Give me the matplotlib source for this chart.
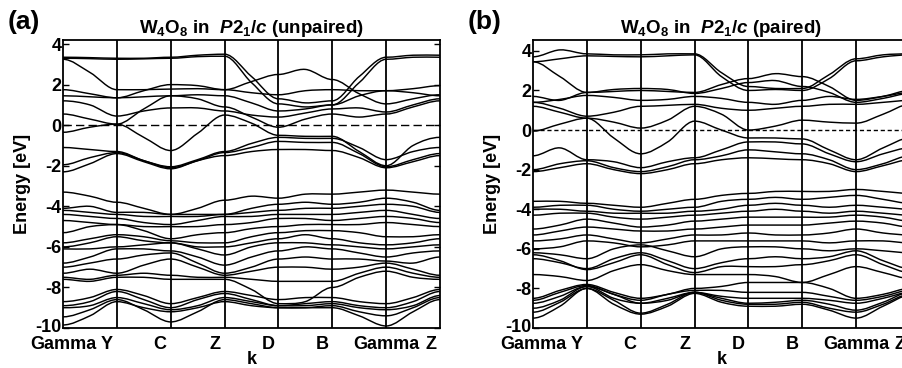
import matplotlib
matplotlib.use("Agg")
import matplotlib.pyplot as plt
from matplotlib.path import Path
from matplotlib.patches import PathPatch
from matplotlib.transforms import ScaledTranslation

plt.rcParams['font.family'] = ['Liberation Sans', 'DejaVu Sans']
plt.rcParams['mathtext.fontset'] = 'custom'
plt.rcParams['mathtext.rm'] = 'Liberation Sans:bold'
plt.rcParams['mathtext.bf'] = 'Liberation Sans:bold'
plt.rcParams['mathtext.it'] = 'Liberation Sans:italic:bold'

# ---------------- data ----------------
k_labels = ['Gamma', 'Y', 'C', 'Z', 'D', 'B', 'Gamma', 'Z']
# samples: each high-symmetry point and the middle of each segment
k_samples = [0, 0.5, 1, 1.5, 2, 2.5, 3, 3.5, 4, 4.5, 5, 5.5, 6, 6.5, 7]

# panel (a) unpaired
a_upper = [
    [3.35, 3.33, 3.30, 3.30, 3.35, 3.45, 3.50, 2.40, 1.30, 1.10, 1.20, 2.40, 3.35, 3.45, 3.45],
    [3.30, 3.28, 3.25, 3.27, 3.30, 3.38, 3.40, 2.10, 1.05, 0.90, 1.00, 2.10, 3.25, 3.35, 3.35],
    [3.25, 2.60, 1.75, 1.75, 1.78, 1.80, 1.75, 2.15, 2.50, 2.75, 2.25, 1.55, 1.05, 1.30, 1.50],
    [1.75, 1.55, 1.35, 1.70, 2.00, 1.95, 1.75, 1.60, 1.50, 1.70, 1.75, 1.70, 1.70, 1.80, 1.95],
    [1.45, 1.40, 1.35, 1.40, 1.45, 1.50, 1.45, 1.10, 0.70, 0.80, 1.00, 1.45, 1.70, 1.60, 1.45],
    [1.20, 1.00, 0.45, 0.70, 0.85, 0.85, 0.70, 0.50, 0.40, 0.60, 0.80, 0.85, 0.65, 1.00, 1.30],
    [0.55, 0.30, 0.05, 0.80, 1.45, 1.30, 0.90, 0.40, -0.10, 0.30, 0.55, 0.40, 0.55, 0.90, 1.20],
    [-0.35, -0.10, 0.05, -0.60, -1.25, -0.40, 0.50, 0.10, -0.50, -0.55, -0.55, -1.30, -2.00, -1.00, -0.60],
]
a_gap = [
    [-1.10, -1.20, -1.30, -1.75, -2.05, -1.70, -1.30, -0.90, -0.60, -0.65, -0.65, -1.10, -1.70, -1.30, -1.10],
    [-1.95, -1.60, -1.35, -1.75, -2.10, -1.75, -1.35, -1.10, -0.80, -0.85, -0.85, -1.40, -2.05, -1.70, -1.40],
    [-2.30, -1.90, -1.40, -1.80, -2.15, -1.75, -1.50, -1.30, -1.20, -1.20, -1.25, -1.60, -2.10, -1.80, -1.50],
]
a_mid = [
    [-3.3, -3.5, -3.8, -4.1, -4.4, -4.1, -3.7, -3.5, -3.6, -3.4, -3.4, -3.3, -3.2, -3.3, -3.4],
    [-4.1, -4.0, -4.3, -4.3, -4.4, -4.4, -4.4, -4.1, -3.9, -3.8, -3.9, -3.8, -3.6, -3.8, -4.2],
    [-4.2, -4.3, -4.4, -4.5, -4.5, -4.5, -4.4, -4.3, -4.2, -4.1, -4.1, -4.0, -3.9, -4.0, -4.3],
    [-4.4, -4.5, -4.6, -4.8, -4.9, -4.7, -4.5, -4.5, -4.4, -4.4, -4.4, -4.3, -4.2, -4.4, -4.6],
    [-4.7, -4.8, -4.9, -5.0, -5.0, -5.0, -4.9, -4.8, -4.6, -4.6, -4.7, -4.6, -4.5, -4.6, -4.8],
    [-5.3, -5.0, -4.9, -5.2, -5.6, -5.4, -5.3, -5.1, -5.0, -4.9, -4.9, -4.9, -4.8, -4.9, -5.0],
    [-5.8, -5.6, -5.4, -5.5, -5.7, -5.8, -5.8, -5.5, -5.3, -5.2, -5.2, -5.3, -5.5, -5.5, -5.4],
    [-6.0, -5.8, -5.5, -5.7, -5.8, -6.0, -6.0, -5.8, -5.6, -5.4, -5.6, -5.8, -5.9, -5.8, -5.6],
    [-6.1, -6.1, -6.0, -5.9, -5.8, -6.1, -6.4, -6.0, -5.8, -5.8, -5.9, -6.0, -6.1, -6.0, -5.9],
    [-6.8, -6.5, -6.1, -6.1, -6.2, -6.5, -6.9, -6.5, -6.2, -6.0, -6.1, -6.3, -6.5, -6.3, -6.2],
    [-7.0, -6.8, -6.6, -6.4, -6.3, -6.8, -7.3, -7.0, -6.6, -6.5, -6.6, -6.6, -6.7, -6.8, -6.5],
    [-7.3, -7.1, -7.3, -6.9, -6.6, -7.0, -7.4, -7.2, -7.0, -7.0, -7.1, -7.0, -6.8, -7.1, -7.4],
    [-7.5, -7.6, -7.4, -7.3, -7.4, -7.5, -7.5, -7.6, -7.7, -7.7, -7.7, -7.3, -7.0, -7.3, -7.5],
    [-7.6, -7.7, -7.5, -7.5, -7.6, -7.6, -7.6, -8.1, -8.8, -8.7, -8.0, -7.5, -7.2, -7.5, -7.6],
]
a_low = [
    [-8.7, -8.5, -8.1, -8.4, -8.8, -8.5, -8.2, -8.4, -8.6, -8.5, -8.5, -8.7, -8.8, -8.5, -8.1],
    [-8.9, -8.7, -8.2, -8.6, -9.0, -8.6, -8.3, -8.6, -8.9, -8.8, -8.7, -8.9, -9.0, -8.7, -8.2],
    [-9.0, -8.9, -8.5, -8.8, -9.1, -8.9, -8.5, -8.7, -8.9, -8.9, -8.8, -9.0, -9.1, -8.9, -8.4],
    [-9.45, -9.1, -8.6, -9.1, -9.7, -9.2, -8.6, -8.8, -9.0, -9.0, -8.9, -9.2, -9.4, -9.0, -8.5],
    [-9.85, -9.4, -8.7, -9.0, -9.2, -9.0, -8.7, -8.9, -9.0, -9.0, -9.0, -9.4, -9.9, -9.2, -8.6],
]

# panel (b) paired
b_upper = [
    [3.70, 4.05, 3.85, 3.80, 3.80, 3.85, 3.85, 2.90, 2.20, 2.10, 2.10, 2.80, 3.60, 3.80, 3.85],
    [3.45, 3.60, 3.75, 3.72, 3.70, 3.75, 3.80, 2.70, 2.00, 2.05, 2.00, 2.60, 3.50, 3.70, 3.80],
    [3.45, 2.70, 1.90, 1.95, 2.00, 1.95, 1.90, 2.30, 2.60, 2.85, 2.70, 2.20, 1.50, 1.70, 2.00],
    [1.70, 1.50, 1.90, 2.05, 2.10, 2.05, 1.85, 2.10, 2.40, 2.50, 2.20, 1.90, 1.40, 1.60, 1.85],
    [1.40, 1.55, 1.75, 1.65, 1.50, 1.55, 1.70, 1.60, 1.40, 1.30, 1.50, 1.70, 1.55, 1.70, 1.90],
    [1.40, 1.10, 0.70, 0.90, 1.20, 1.25, 1.30, 1.10, 1.00, 1.10, 1.20, 1.30, 1.30, 1.40, 1.50],
    [1.20, 0.90, 0.60, 0.40, 0.10, 0.50, 1.20, 0.80, 0.00, 0.20, 0.50, 0.40, 0.35, 0.80, 1.30],
    [-0.05, 0.30, 0.60, -0.40, -1.20, -0.60, 0.45, 0.00, -0.40, -0.40, -0.45, -1.00, -1.50, -0.90, -0.40],
]
b_gap = [
    [-1.30, -0.90, -1.50, -1.60, -1.90, -1.60, -1.40, -1.00, -0.60, -0.60, -0.70, -1.20, -1.60, -1.20, -0.90],
    [-2.00, -1.70, -1.55, -1.90, -2.10, -1.85, -1.50, -1.30, -1.00, -1.10, -1.20, -1.50, -2.00, -1.70, -1.30],
    [-2.10, -1.90, -1.70, -2.00, -2.20, -2.00, -1.70, -1.50, -1.40, -1.45, -1.50, -1.70, -2.10, -1.80, -1.50],
]
b_mid = [
    [-3.6, -3.6, -3.7, -3.8, -3.9, -3.7, -3.5, -3.3, -3.2, -3.1, -3.1, -3.1, -3.0, -3.1, -3.2],
    [-3.9, -3.8, -3.8, -4.0, -4.1, -4.0, -3.9, -3.6, -3.5, -3.4, -3.5, -3.4, -3.3, -3.5, -3.7],
    [-4.0, -4.0, -4.1, -4.2, -4.2, -4.2, -4.1, -4.0, -3.8, -3.7, -3.8, -3.9, -3.8, -3.9, -4.0],
    [-4.3, -4.2, -4.2, -4.4, -4.5, -4.4, -4.3, -4.2, -4.1, -4.0, -4.1, -4.2, -4.1, -4.2, -4.3],
    [-5.0, -4.8, -4.5, -4.7, -4.9, -4.8, -4.6, -4.5, -4.4, -4.4, -4.4, -4.4, -4.3, -4.4, -4.6],
    [-5.3, -5.1, -4.9, -5.0, -5.1, -5.1, -5.0, -4.9, -4.8, -4.8, -4.8, -4.7, -4.6, -4.7, -4.9],
    [-5.6, -5.5, -5.3, -5.5, -5.7, -5.5, -5.3, -5.3, -5.2, -5.3, -5.3, -5.2, -5.0, -5.2, -5.3],
    [-6.0, -5.9, -5.6, -5.7, -5.9, -5.8, -5.6, -5.6, -5.6, -5.6, -5.6, -5.7, -5.6, -5.6, -5.7],
    [-6.2, -6.3, -6.5, -6.0, -5.8, -6.1, -6.4, -6.0, -5.9, -5.9, -6.0, -6.1, -6.0, -6.1, -6.2],
    [-6.5, -6.7, -7.0, -6.5, -6.2, -6.6, -7.0, -6.7, -6.5, -6.4, -6.5, -6.4, -6.1, -6.6, -7.0],
    [-6.3, -6.6, -7.05, -6.7, -6.3, -6.8, -7.2, -6.9, -6.9, -6.9, -6.8, -6.6, -6.3, -6.8, -7.2],
    [-7.3, -7.4, -7.6, -7.1, -6.8, -7.1, -7.3, -7.3, -7.3, -7.4, -7.7, -7.3, -6.9, -7.2, -7.5],
]
b_low = [
    [-8.5, -8.1, -7.8, -8.2, -8.5, -8.3, -8.0, -7.9, -7.7, -7.7, -7.7, -8.0, -8.5, -8.3, -8.0],
    [-8.6, -8.2, -7.85, -8.3, -8.6, -8.3, -8.1, -8.1, -8.2, -8.2, -8.2, -8.4, -8.6, -8.4, -8.1],
    [-8.75, -8.4, -7.9, -8.3, -8.75, -8.5, -8.2, -8.4, -8.5, -8.5, -8.5, -8.6, -8.75, -8.5, -8.2],
    [-9.0, -8.6, -7.9, -8.5, -8.75, -8.6, -8.2, -8.5, -8.75, -8.7, -8.6, -8.8, -9.1, -8.7, -8.2],
    [-9.2, -8.7, -8.0, -8.6, -9.25, -8.8, -8.2, -8.6, -8.8, -8.8, -8.7, -9.0, -9.2, -8.8, -8.3],
    [-9.5, -8.9, -8.0, -8.8, -9.3, -8.9, -8.25, -8.7, -8.9, -8.9, -8.8, -9.1, -9.5, -8.9, -8.35],
]

y_ticks = [-10, -8, -6, -4, -2, 0, 2, 4]
titles = [r'W$_4$O$_8$ in  $\mathit{P2_1/c}$ (unpaired)',
          r'W$_4$O$_8$ in  $\mathit{P2_1/c}$ (paired)']
panel_tags = ['(a)', '(b)']

# ---------------- drawing ----------------
W, H = 902, 368
fig = plt.figure(figsize=(W / 100, H / 100), dpi=100)


def band_patch(xs, ys, lw):
    verts = [(xs[0], ys[0])]
    codes = [Path.MOVETO]
    n = len(xs)
    slopes = []
    for i in range(n):
        if i % 2 == 0:
            slopes.append(0.0)  # flat at high-symmetry points
        else:
            slopes.append((ys[i + 1] - ys[i - 1]) / (xs[i + 1] - xs[i - 1]))
    for i in range(n - 1):
        h = xs[i + 1] - xs[i]
        verts.append((xs[i] + h / 3, ys[i] + slopes[i] * h / 3))
        verts.append((xs[i + 1] - h / 3, ys[i + 1] - slopes[i + 1] * h / 3))
        verts.append((xs[i + 1], ys[i + 1]))
        codes += [Path.CURVE4] * 3
    return PathPatch(Path(verts, codes), facecolor='none', edgecolor='black', lw=lw, zorder=3)


def draw_panel(rect, groups, ylim, title, dash):
    ax = fig.add_axes(rect)
    for grp in groups:
        for band in grp:
            ax.add_patch(band_patch(k_samples, band, 1.05))
    for kx in range(1, len(k_labels) - 1):
        ax.axvline(kx, color='black', lw=1.3, zorder=4)
    ax.axhline(0, color='black', lw=1.0, dashes=dash, zorder=4)
    ax.set_xlim(0, len(k_labels) - 1)
    ax.set_ylim(*ylim)
    ax.set_yticks(y_ticks)
    ax.set_yticklabels([str(v) for v in y_ticks], fontsize=13, fontweight='bold')
    ax.set_xticks(range(len(k_labels)))
    ax.set_xticklabels(k_labels, fontsize=13, fontweight='bold')
    ax.tick_params(axis='y', direction='in', length=4, width=1.0, right=True, pad=1)
    ax.tick_params(axis='x', length=0, pad=6)
    for lab in ax.get_yticklabels():
        if lab.get_text() == '-10':
            lab.set_transform(lab.get_transform() + ScaledTranslation(0, 3 / 100, fig.dpi_scale_trans))
    for lab in ax.get_xticklabels():
        if lab.get_text() != 'Gamma':
            lab.set_horizontalalignment('right')
            lab.set_transform(lab.get_transform() + ScaledTranslation(-4 / 100, 0, fig.dpi_scale_trans))
    for s in ax.spines.values():
        s.set_linewidth(1.3)
    ax.set_title(title, fontsize=13.5, fontweight='bold', pad=5)
    ax.set_xlabel('k', fontsize=13, fontweight='bold', labelpad=-2)
    ax.set_ylabel('Energy [eV]', fontsize=13, fontweight='bold', labelpad=3)
    return ax


axh = (328 - 40) / H
ax_a = draw_panel([63 / W, (H - 328) / H, 377 / W, axh], [a_upper, a_gap, a_mid, a_low],
                  (-10, 4.2), titles[0], (6, 3))
ax_b = draw_panel([533 / W, (H - 328) / H, 377 / W, axh], [b_upper, b_gap, b_mid, b_low],
                  (-10, 4.55), titles[1], (3, 2))

fig.text(8 / W, 1 - 22 / H, panel_tags[0], fontsize=19, fontweight='bold', va='center', ha='left')
fig.text(468 / W, 1 - 22 / H, panel_tags[1], fontsize=19, fontweight='bold', va='center', ha='left')

fig.savefig('out.png', dpi=100)
